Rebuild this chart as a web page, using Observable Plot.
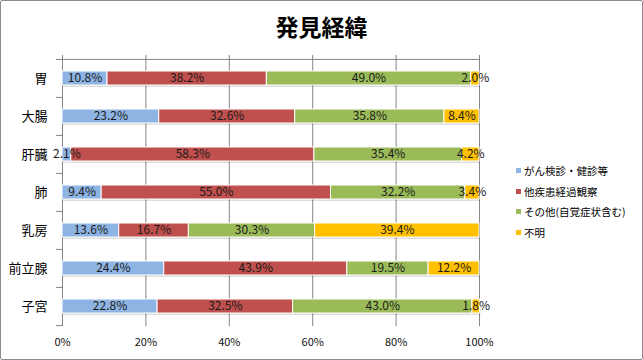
<!DOCTYPE html>
<html>
<head>
<meta charset="utf-8">
<script src="https://cdn.jsdelivr.net/npm/d3@7"></script>
<script src="https://cdn.jsdelivr.net/npm/@observablehq/plot@0.6"></script>
<style>
  html, body { margin: 0; padding: 0; background: #fff; }
  #wrap { position: relative; width: 643px; height: 360px; overflow: hidden; font-family: "Noto Sans CJK JP", sans-serif; }
  #border { position: absolute; left: 0; top: 0; width: 643px; height: 360px; box-sizing: border-box; border: 1px solid #8c8c8c; border-radius: 2px; pointer-events: none; }
  #title { position: absolute; left: 0; top: 10px; width: 643px; text-align: center; font-size: 23px; font-weight: bold; color: #000; line-height: 32px; }
  #legend { position: absolute; left: 516px; top: 160px; font-size: 10.5px; color: #000; }
  .item { display: flex; align-items: center; height: 20.7px; white-space: nowrap; }
  .sw { width: 5px; height: 5px; margin-right: 3px; }
  svg { position: absolute; left: 0; top: 0; }
</style>
</head>
<body>
<div id="wrap">
  <div id="title"></div>
  <div id="legend"></div>
  <div id="border"></div>
</div>
<script>
const chartTitle = "発見経緯";
const categories = ["胃", "大腸", "肝臓", "肺", "乳房", "前立腺", "子宮"];
const seriesNames = ["がん検診・健診等", "他疾患経過観察", "その他(自覚症状含む)", "不明"];
const seriesColors = ["#8EB4E3", "#C0504D", "#9BBB59", "#FFC000"];
const screening    = [10.8, 23.2,  2.1,  9.4, 13.6, 24.4, 22.8];
const otherDisease = [38.2, 32.6, 58.3, 55.0, 16.7, 43.9, 32.5];
const selfNoticed  = [49.0, 35.8, 35.4, 32.2, 30.3, 19.5, 43.0];
const unknown      = [ 2.0,  8.4,  4.2,  3.4, 39.4, 12.2,  1.8];
const xTicks = [0, 20, 40, 60, 80, 100];

const seriesValues = [screening, otherDisease, selfNoticed, unknown];
const data = [];
categories.forEach((c, i) => {
  seriesNames.forEach((s, j) => {
    data.push({cat: c, series: s, value: seriesValues[j][i]});
  });
});

const W = 643, H = 360, mT = 59, mB = 34, mL = 62, mR = 164;
const step = (H - mT - mB) / categories.length;
const tickLen = 6 / (W - mL - mR) * 100;
const gridColor = "#868686";

const chart = Plot.plot({
  width: W, height: H,
  marginTop: mT, marginBottom: mB, marginLeft: mL, marginRight: mR,
  style: {fontFamily: "'Noto Sans CJK JP', sans-serif", background: "transparent", color: "#111"},
  x: {domain: [0, 100]},
  y: {domain: categories, paddingInner: 0.62, paddingOuter: 0.31},
  color: {domain: seriesNames, range: seriesColors},
  marks: [
    Plot.ruleX(xTicks.slice(1), {stroke: gridColor}),
    Plot.axisX({anchor: "top", ticks: xTicks, tickSize: 5, tickFormat: () => "", stroke: gridColor, label: null}),
    Plot.axisX({anchor: "bottom", ticks: xTicks, tickSize: 0, tickPadding: 12, tickFormat: d => d + "%", fontSize: 11, label: null}),
    Plot.axisY({anchor: "left", tickSize: 0, tickPadding: 15, fontSize: 13, label: null, fill: "#000"}),
    Plot.ruleY(categories, {y: d => d, x1: -tickLen, x2: 0, dy: -step / 2, stroke: gridColor}),
    Plot.ruleY([categories[0]], {y: d => d, x1: 0, x2: 100, dy: -step / 2, stroke: gridColor}),
    Plot.ruleY([categories[categories.length - 1]], {y: d => d, x1: -tickLen, x2: 0, dy: step / 2, stroke: gridColor}),
    Plot.ruleX([0], {stroke: gridColor}),
    Plot.barX(data, Plot.stackX({x: "value", y: "cat", z: "series", fill: "#000", fillOpacity: 0.13, dx: 1, dy: 2})),
    Plot.barX(data, Plot.stackX({x: "value", y: "cat", z: "series", fill: "series", stroke: "#fff", strokeWidth: 1})),
    Plot.text(data, Plot.stackX({x: "value", y: "cat", z: "series", text: d => d.value.toFixed(1) + "%", fontSize: 12, fill: "#1a1a1a"}))
  ]
});

const wrap = document.getElementById("wrap");
wrap.insertBefore(chart, wrap.firstChild);
document.getElementById("title").textContent = chartTitle;
const legend = document.getElementById("legend");
seriesNames.forEach((s, j) => {
  const item = document.createElement("div");
  item.className = "item";
  const sw = document.createElement("div");
  sw.className = "sw";
  sw.style.background = seriesColors[j];
  const lab = document.createElement("span");
  lab.textContent = s;
  item.appendChild(sw);
  item.appendChild(lab);
  legend.appendChild(item);
});
</script>
</body>
</html>
